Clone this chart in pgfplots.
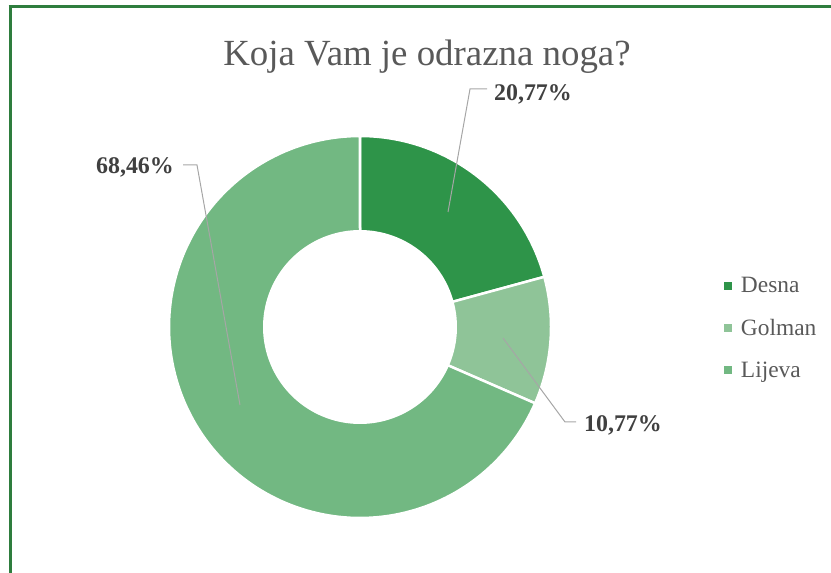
\documentclass[border=0pt]{standalone}
\usepackage{pgfplots}
\usepackage{pgfplotstable}
\pgfplotsset{compat=1.18}
\usepackage{fontspec}
\setmainfont{Liberation Serif}
\definecolor{cDesna}{HTML}{2E9449}
\definecolor{cGolman}{HTML}{8FC498}
\definecolor{cLijeva}{HTML}{72B882}
\definecolor{border}{HTML}{2E7D3E}
\definecolor{titlegray}{HTML}{595959}
\definecolor{labgray}{HTML}{404040}
\definecolor{leader}{HTML}{A6A6A6}

\pgfplotstableread{
label value
Desna 20.77
Golman 10.77
Lijeva 68.46
}\piedata

\begin{document}
\begin{tikzpicture}
\pgfplotstablegetelem{0}{value}\of\piedata \let\vA\pgfplotsretval
\pgfplotstablegetelem{1}{value}\of\piedata \let\vB\pgfplotsretval
\pgfplotstablegetelem{2}{value}\of\piedata \let\vC\pgfplotsretval
\pgfmathsetmacro{\tot}{\vA+\vB+\vC}
\pgfmathsetmacro{\aA}{0}
\pgfmathsetmacro{\aB}{360*\vA/\tot}
\pgfmathsetmacro{\aC}{360*(\vA+\vB)/\tot}
\pgfmathsetmacro{\aD}{360}
\begin{axis}[
  name=main,
  scale only axis, width=831bp, height=573bp,
  xmin=0, xmax=831, ymin=0, ymax=573,
  hide axis, clip=true,
  legend style={at={(axis cs:723.5,245)}, anchor=west, draw=none, fill=none,
    font=\fontsize{23.5}{26}\selectfont\color{titlegray},
    row sep=21bp, inner sep=0pt,
    nodes={inner xsep=4bp}},
  legend cell align=left,
  legend image code/.code={\fill[#1, draw=none] (0bp,-4bp) rectangle (8bp,4bp); \path (12bp,0bp);},
]
\addplot[fill=cDesna, draw=white, line width=2.5bp, domain=\aA:\aB, samples=80, variable=\t]
  ({360+191*sin(t)},{246+191*cos(t)}) -- (axis cs:360,246) -- cycle;
\addlegendentry{Desna}
\addplot[fill=cGolman, draw=white, line width=2.5bp, domain=\aB:\aC, samples=60, variable=\t]
  ({360+191*sin(t)},{246+191*cos(t)}) -- (axis cs:360,246) -- cycle;
\addlegendentry{Golman}
\addplot[fill=cLijeva, draw=white, line width=2.5bp, domain=\aC:\aD, samples=150, variable=\t]
  ({360+191*sin(t)},{246+191*cos(t)}) -- (axis cs:360,246) -- cycle;
\addlegendentry{Lijeva}
\addplot[fill=white, draw=none, domain=0:360, samples=150, variable=\t, forget plot]
  ({360+97*sin(t)},{246+97*cos(t)}) -- cycle;

% border
\draw[border, line width=3bp] (axis cs:8.5,566) -- (axis cs:831,566);
\draw[border, line width=3bp] (axis cs:10,567.5) -- (axis cs:10,0);

% title
\node[font=\fontsize{37}{40}\selectfont, text=titlegray] at (axis cs:427,516.5) {Koja Vam je odrazna noga?};

% leader lines
\draw[leader, line width=1bp] (axis cs:448,361) -- (axis cs:470,484) -- (axis cs:487,484);
\draw[leader, line width=1bp] (axis cs:240,168) -- (axis cs:197,408) -- (axis cs:183,408);
\draw[leader, line width=1bp] (axis cs:503,235) -- (axis cs:565,151) -- (axis cs:576,151);

% data labels
\node[font=\fontsize{24}{28}\selectfont\bfseries, text=labgray] at (axis cs:533,479) {20,77\%};
\node[font=\fontsize{24}{28}\selectfont\bfseries, text=labgray] at (axis cs:135,406) {68,46\%};
\node[font=\fontsize{24}{28}\selectfont\bfseries, text=labgray] at (axis cs:623,148) {10,77\%};
\end{axis}
\pgfresetboundingbox
\path (main.south west) rectangle (main.north east);
\end{tikzpicture}
\end{document}
